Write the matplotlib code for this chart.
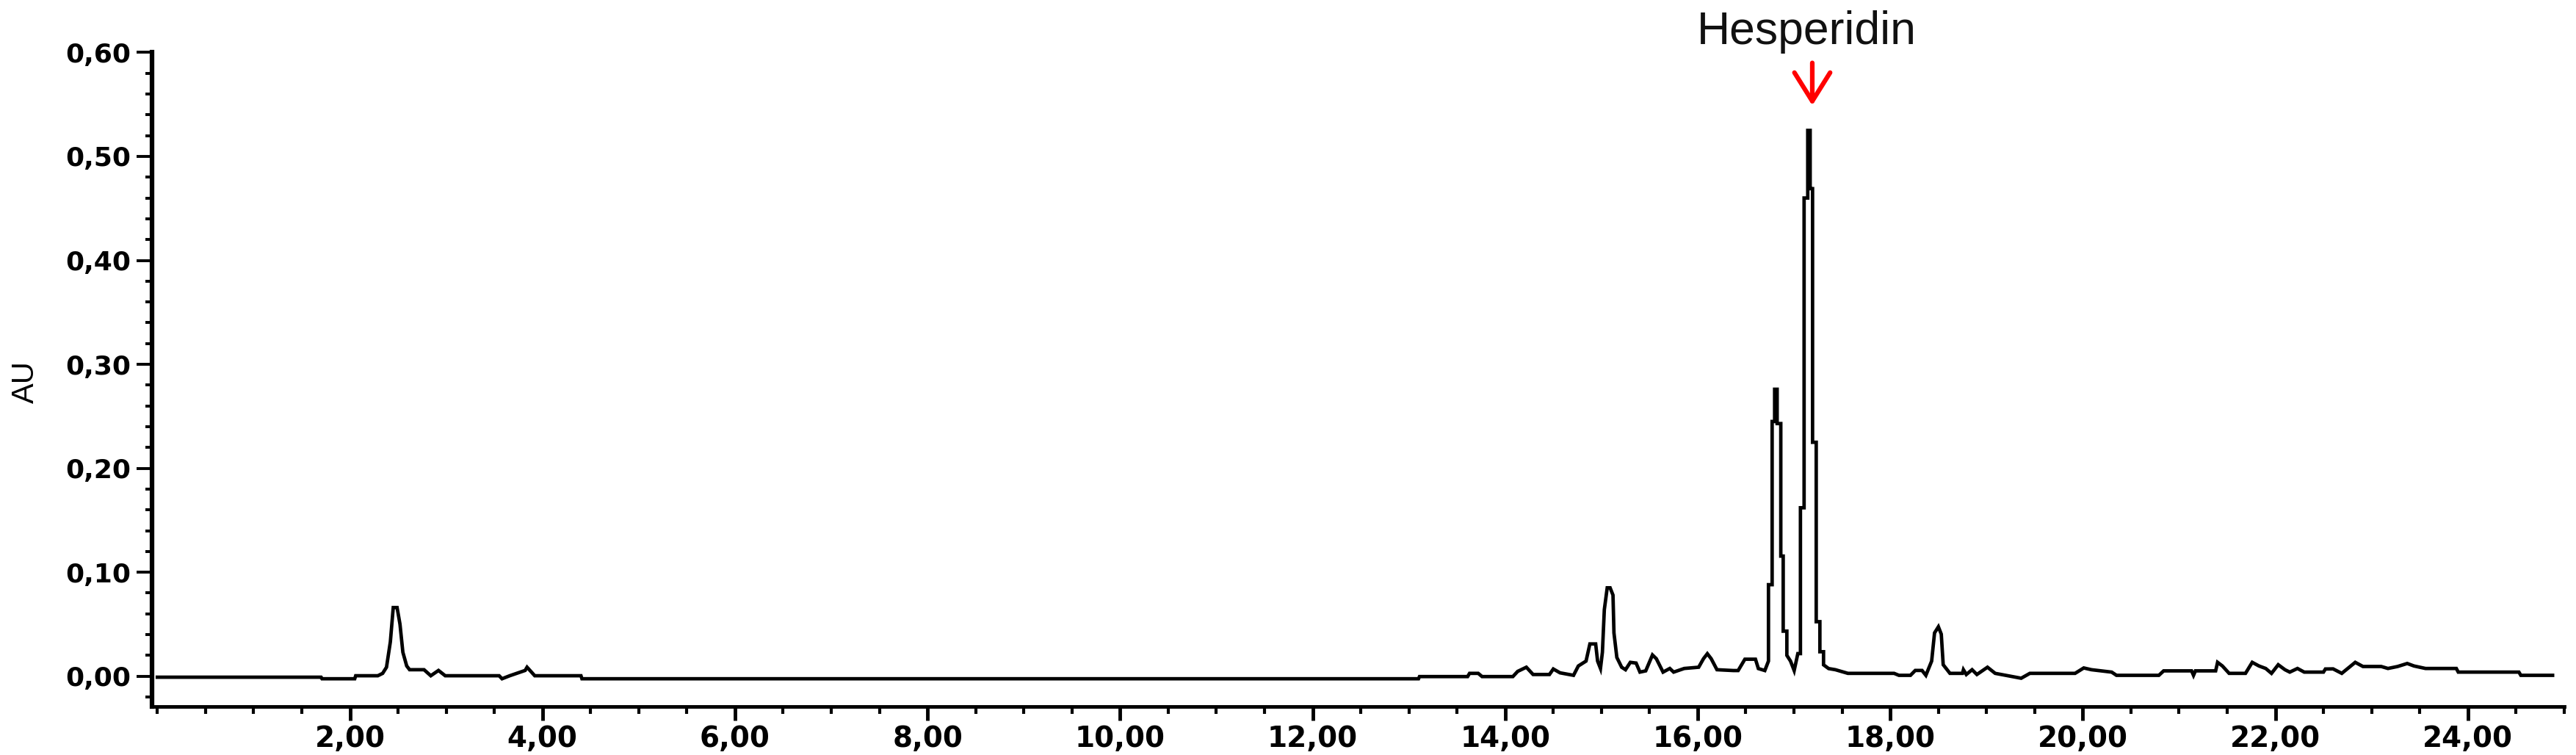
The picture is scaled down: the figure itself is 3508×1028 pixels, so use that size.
import matplotlib
matplotlib.use("Agg")
import matplotlib.pyplot as plt
from matplotlib import font_manager
from matplotlib.ticker import FixedLocator, MultipleLocator, FuncFormatter


# ========== 1. data ==========
time_min = [
    0.00, 1.70, 1.71, 2.05, 2.06, 2.29, 2.34, 2.38, 2.42, 2.45, 2.49, 2.52, 2.55,
    2.59, 2.62, 2.77, 2.84, 2.92, 2.99, 3.55, 3.58, 3.66, 3.82, 3.84, 3.92, 4.40,
    4.41, 13.10, 13.11, 13.61, 13.63, 13.72, 13.76, 14.08, 14.13, 14.22, 14.29,
    14.46, 14.50, 14.57, 14.71, 14.76, 14.84, 14.88, 14.94, 14.96, 14.99, 15.01,
    15.03, 15.06, 15.09, 15.12, 15.13, 15.16, 15.21, 15.25, 15.30, 15.36, 15.40,
    15.46, 15.53, 15.57, 15.64, 15.71, 15.75, 15.86, 16.01, 16.06, 16.10, 16.14,
    16.20, 16.37, 16.42, 16.49, 16.60, 16.63, 16.697, 16.735, 16.735, 16.773,
    16.773, 16.799, 16.799, 16.825, 16.825, 16.863, 16.863, 16.888, 16.888,
    16.926, 16.926, 16.964, 17.002, 17.04, 17.067, 17.067, 17.105, 17.105,
    17.143, 17.143, 17.168, 17.168, 17.193, 17.193, 17.231, 17.231, 17.269,
    17.269, 17.307, 17.307, 17.36, 17.43, 17.56, 18.04, 18.09, 18.21, 18.26,
    18.33, 18.37, 18.43, 18.46, 18.50, 18.53, 18.55, 18.62, 18.75, 18.76, 18.79,
    18.85, 18.90, 19.01, 19.09, 19.36, 19.45, 19.92, 20.01, 20.09, 20.30, 20.35,
    20.79, 20.84, 21.13, 21.15, 21.17, 21.38, 21.40, 21.45, 21.52, 21.69, 21.76,
    21.83, 21.90, 21.96, 22.03, 22.10, 22.15, 22.23, 22.30, 22.50, 22.52, 22.60,
    22.69, 22.83, 22.91, 23.10, 23.17, 23.27, 23.37, 23.44, 23.56, 23.88, 23.90,
    24.53, 24.55, 24.88,
]
absorbance = [
    -0.0010, -0.0010, -0.0025, -0.0025, 0.0004, 0.0004, 0.0027, 0.0086, 0.0330,
    0.0660, 0.0660, 0.0500, 0.0230, 0.0098, 0.0062, 0.0062, 0.0004, 0.0055,
    0.0004, 0.0004, -0.0025, 0.0004, 0.0055, 0.0086, 0.0004, 0.0004, -0.0025,
    -0.0025, -0.0004, -0.0004, 0.0027, 0.0027, -0.0004, -0.0004, 0.0046, 0.0086,
    0.0016, 0.0016, 0.0069, 0.0032, 0.0008, 0.0098, 0.0145, 0.0310, 0.0310,
    0.0145, 0.0074, 0.0230, 0.0640, 0.0850, 0.0850, 0.0780, 0.0416, 0.0180,
    0.0086, 0.0062, 0.0133, 0.0126, 0.0039, 0.0051, 0.0204, 0.0168, 0.0039,
    0.0074, 0.0039, 0.0074, 0.0086, 0.0168, 0.0216, 0.0168, 0.0062, 0.0054,
    0.0054, 0.0163, 0.0163, 0.0073, 0.0054, 0.0145, 0.0880, 0.0880, 0.2450,
    0.2450, 0.2760, 0.2760, 0.2430, 0.2430, 0.1155, 0.1155, 0.0433, 0.0433,
    0.0200, 0.0145, 0.0054, 0.0217, 0.0217, 0.1620, 0.1620, 0.4600, 0.4600,
    0.5250, 0.5250, 0.4690, 0.4690, 0.2250, 0.2250, 0.0524, 0.0524, 0.0235,
    0.0235, 0.0109, 0.0073, 0.0062, 0.0027, 0.0027, 0.0008, 0.0008, 0.0055,
    0.0055, 0.0008, 0.0145, 0.0416, 0.0475, 0.0404, 0.0110, 0.0027, 0.0027,
    0.0062, 0.0016, 0.0062, 0.0016, 0.0086, 0.0027, -0.0020, 0.0027, 0.0027,
    0.0079, 0.0062, 0.0039, 0.0008, 0.0008, 0.0051, 0.0051, 0.0008, 0.0051,
    0.0051, 0.0133, 0.0098, 0.0027, 0.0027, 0.0133, 0.0098, 0.0074, 0.0027,
    0.0110, 0.0062, 0.0039, 0.0074, 0.0039, 0.0039, 0.0069, 0.0070, 0.0027,
    0.0133, 0.0093, 0.0093, 0.0074, 0.0093, 0.0122, 0.0098, 0.0074, 0.0074,
    0.0039, 0.0039, 0.0008, 0.0008,
]

x_ticks = [2, 4, 6, 8, 10, 12, 14, 16, 18, 20, 22, 24]
y_ticks = [0.0, 0.1, 0.2, 0.3, 0.4, 0.5, 0.6]

peak_name = "Hesperidin"
peak_time = 17.19
peak_label_time = 17.13


# ========== 2. fonts ==========
names = {f.name for f in font_manager.fontManager.ttflist}
narrow = "Liberation Sans Narrow" if "Liberation Sans Narrow" in names else "Liberation Sans"


def comma_fmt(v, pos):
    return f"{v:.2f}".replace(".", ",")


# ========== 3. figure ==========
fig = plt.figure(figsize=(35.08, 10.28), dpi=100)
ax = fig.add_axes([0.0590, 0.0645, 0.9364, 0.8660])

ax.plot(time_min, absorbance, color="black", linewidth=3.4, solid_joinstyle="miter")

ax.set_xlim(-0.056, 25.0)
ax.set_ylim(-0.029, 0.60)

ax.spines["top"].set_visible(False)
ax.spines["right"].set_visible(False)
ax.spines["left"].set_linewidth(4.5)
ax.spines["bottom"].set_linewidth(3.5)

ax.xaxis.set_major_locator(FixedLocator(x_ticks))
ax.xaxis.set_minor_locator(MultipleLocator(0.5))
ax.yaxis.set_major_locator(FixedLocator(y_ticks))
ax.yaxis.set_minor_locator(MultipleLocator(0.02))
ax.xaxis.set_major_formatter(FuncFormatter(comma_fmt))
ax.yaxis.set_major_formatter(FuncFormatter(comma_fmt))

ax.tick_params(axis="x", which="major", direction="out", length=14, width=3.5, pad=4)
ax.tick_params(axis="x", which="minor", direction="out", length=7, width=3)
ax.tick_params(axis="y", which="major", direction="out", length=15, width=2.8, pad=6)
ax.tick_params(axis="y", which="minor", direction="out", length=6.5, width=2.8)

for lab in ax.get_xticklabels():
    lab.set_fontfamily("DejaVu Sans")
    lab.set_fontweight("bold")
    lab.set_fontsize(28)
for lab in ax.get_yticklabels():
    lab.set_fontfamily("DejaVu Sans")
    lab.set_fontweight("bold")
    lab.set_fontsize(26)

fig.text(35 / 3508, 1 - 520 / 1028, "AU", rotation=90, ha="center", va="center",
         fontsize=30, family=narrow)

# peak label and arrow
ax.text(peak_label_time, 0.608, peak_name, ha="center", va="baseline",
        fontsize=45, family="Liberation Sans", color="#111111", clip_on=False)
ax.annotate("", xy=(peak_time, 0.549), xytext=(peak_time, 0.590),
            arrowprops=dict(arrowstyle="->,head_length=0.4,head_width=0.25",
                            color="#ff0000", lw=4.5, mutation_scale=70,
                            shrinkA=0, shrinkB=0),
            annotation_clip=False)

fig.savefig("out.png", dpi=100)
